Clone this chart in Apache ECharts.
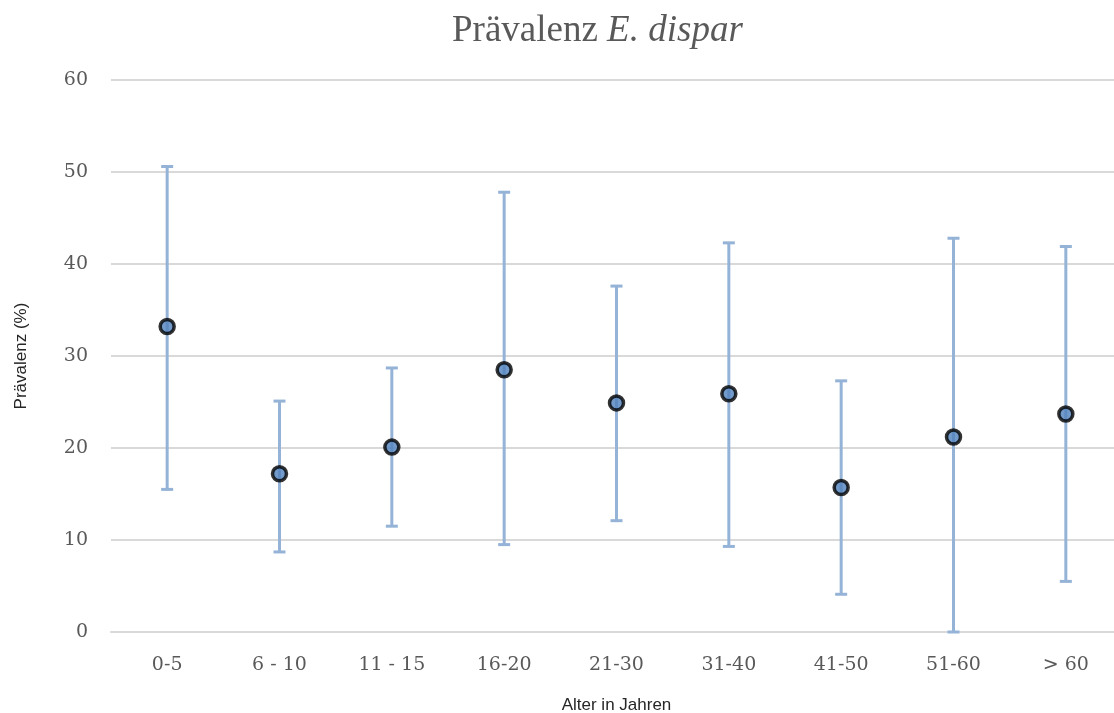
<!DOCTYPE html>
<html>
<head>
<meta charset="utf-8">
<script src="https://cdn.jsdelivr.net/npm/echarts@6/dist/echarts.min.js"></script>
<style>
  html, body { margin: 0; padding: 0; background: #fff; }
  #chart { width: 1114px; height: 713px; }
</style>
</head>
<body>
<div id="chart"></div>
<script>
// Age groups and prevalence estimates (%) with 95% confidence limits
const categories = ['0-5', '6 - 10', '11 - 15', '16-20', '21-30', '31-40', '41-50', '51-60', '> 60'];
const prevalence = [33.2, 17.2, 20.1, 28.5, 24.9, 25.9, 15.7, 21.2, 23.7];
const lowerCI    = [15.5, 8.7, 11.5, 9.5, 12.1, 9.3, 4.1, 0.0, 5.5];
const upperCI    = [50.6, 25.1, 28.7, 47.8, 37.6, 42.3, 27.3, 42.8, 41.9];
const yTicks = [0, 10, 20, 30, 40, 50, 60];

const titleSerif = '"Liberation Serif", "DejaVu Serif", serif';
const labelSerif = '"DejaVu Serif", "Liberation Serif", serif';
const sans = '"Liberation Sans", Arial, sans-serif';

const chart = echarts.init(document.getElementById('chart'));

const errorData = categories.map((c, i) => [i, lowerCI[i], upperCI[i]]);

chart.setOption({
  animation: false,
  backgroundColor: '#ffffff',
  title: {
    text: '{n|Prävalenz }{i|E. dispar}',
    left: 447,
    top: 8,
    textStyle: {
      fontWeight: 'normal',
      rich: {
        n: { fontFamily: titleSerif, fontSize: 37, fontWeight: 'normal', color: '#595959' },
        i: { fontFamily: titleSerif, fontSize: 37, fontWeight: 'normal', color: '#595959', fontStyle: 'italic' }
      }
    }
  },
  // plot area runs off the right edge of the canvas, so keep it at a fixed size
  grid: { left: 111, top: 80, width: 1011, height: 552, outerBoundsMode: 'none', containLabel: false },
  xAxis: {
    type: 'category',
    data: categories,
    name: 'Alter in Jahren',
    nameLocation: 'middle',
    nameGap: 65,
    nameTextStyle: { fontFamily: sans, fontSize: 17, color: '#262626' },
    axisLine: { show: true, lineStyle: { color: '#d9d9d9', width: 2 } },
    axisTick: { show: false },
    axisLabel: { fontFamily: labelSerif, fontSize: 19, color: '#595959', margin: 24 },
    splitLine: { show: false }
  },
  yAxis: {
    type: 'value',
    min: yTicks[0],
    max: yTicks[yTicks.length - 1],
    interval: 10,
    name: 'Prävalenz (%)',
    nameLocation: 'middle',
    nameGap: 81,
    nameTextStyle: { fontFamily: sans, fontSize: 17, color: '#262626' },
    axisLine: { show: false },
    axisTick: { show: false },
    axisLabel: { fontFamily: labelSerif, fontSize: 19, color: '#595959', margin: 23 },
    splitLine: { lineStyle: { color: '#d9d9d9', width: 2 } }
  },
  series: [
    {
      type: 'custom',
      name: 'KI',
      data: errorData,
      z: 2,
      renderItem: function (params, api) {
        const x = api.value(0);
        const lo = api.coord([x, api.value(1)]);
        const hi = api.coord([x, api.value(2)]);
        const cap = 6;
        const style = { stroke: '#95b3d7', lineWidth: 3, fill: null };
        return {
          type: 'group',
          children: [
            { type: 'line', shape: { x1: hi[0], y1: hi[1], x2: lo[0], y2: lo[1] }, style: style },
            { type: 'line', shape: { x1: hi[0] - cap, y1: hi[1], x2: hi[0] + cap, y2: hi[1] }, style: style },
            { type: 'line', shape: { x1: lo[0] - cap, y1: lo[1], x2: lo[0] + cap, y2: lo[1] }, style: style }
          ]
        };
      }
    },
    {
      type: 'scatter',
      name: 'Prävalenz',
      data: prevalence,
      z: 3,
      symbol: 'circle',
      symbolSize: 14,
      itemStyle: { color: '#4f81bd', borderColor: '#000000', borderWidth: 3.5 }
    }
  ]
});
</script>
</body>
</html>
